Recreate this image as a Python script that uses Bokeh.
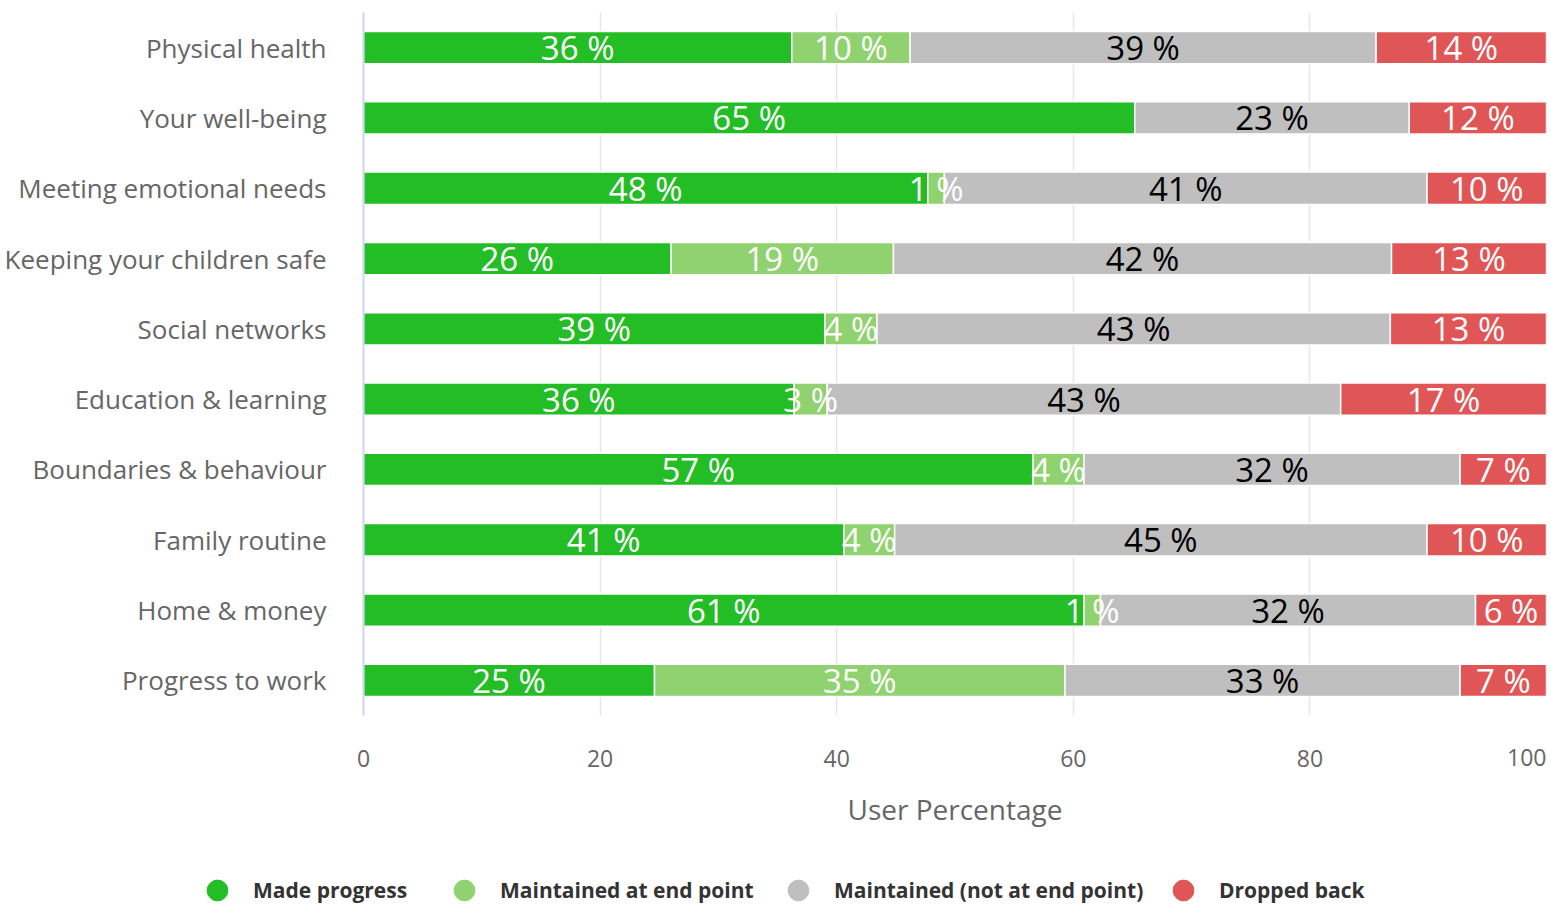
import numpy as np
from bokeh.plotting import figure
from bokeh.models import (ColumnDataSource, FactorRange, Range1d, FixedTicker,
                          Legend, LegendItem, Label)
from bokeh.embed import file_html
from bokeh.resources import INLINE
from bokeh.core.properties import value

# ---------------- data ----------------
categories = ["Physical health", "Your well-being", "Meeting emotional needs",
              "Keeping your children safe", "Social networks", "Education & learning",
              "Boundaries & behaviour", "Family routine", "Home & money", "Progress to work"]
made_progress = [36.2, 65.2, 47.7, 26.0, 39.0, 36.4, 56.6, 40.6, 60.9, 24.6]
maintained_end = [10.0, 0.0, 1.4, 18.8, 4.4, 2.8, 4.3, 4.3, 1.4, 34.7]
maintained_not_end = [39.4, 23.2, 40.8, 42.1, 43.4, 43.4, 31.8, 45.0, 31.7, 33.4]
dropped_back = [14.4, 11.6, 10.1, 13.1, 13.2, 17.4, 7.3, 10.1, 6.0, 7.3]
series_names = ["Made progress", "Maintained at end point",
                "Maintained (not at end point)", "Dropped back"]
x_ticks = [0, 20, 40, 60, 80, 100]
x_title = "User Percentage"

# ---------------- style ----------------
colors = ["#23bd26", "#90d26f", "#bfbfbf", "#e05555"]
label_colors = ["white", "white", "black", "white"]
FONT = "Open Sans"

series = [made_progress, maintained_end, maintained_not_end, dropped_back]
keys = ["s0", "s1", "s2", "s3"]
data = {"cat": categories}
for k, vals in zip(keys, series):
    data[k] = vals
source = ColumnDataSource(data)

p = figure(width=1551, height=870,
           y_range=FactorRange(factors=categories[::-1], range_padding=0),
           x_range=Range1d(0, 100),
           output_backend="svg", toolbar_location=None,
           min_border_left=363, min_border_right=5,
           min_border_top=12, min_border_bottom=155)
p.outline_line_color = None
p.background_fill_color = "white"
p.border_fill_color = "white"

p.hbar_stack(keys, y="cat", height=0.46, fill_color=colors,
             line_color="white", line_width=1.5, source=source)

# data labels
xs, ys, ts, cs = [], [], [], []
for i, cat in enumerate(categories):
    left = 0.0
    for s, vals in enumerate(series):
        v = vals[i]
        if v > 0:
            xs.append(left + v / 2)
            ys.append(cat)
            ts.append(f"{round(v)} %")
            cs.append(label_colors[s])
        left += v
lab_src = ColumnDataSource(dict(x=xs, y=ys, text=ts, color=cs))
p.text(x="x", y="y", text="text", text_color="color", source=lab_src,
       text_align="center", text_baseline="middle",
       text_font=value(FONT), text_font_size="33px")

# axes
xa = p.xaxis[0]
xa.ticker = FixedTicker(ticks=x_ticks[:-1])
xa.axis_line_color = None
xa.major_tick_line_color = None
xa.minor_tick_line_color = None
xa.major_label_text_font = FONT
xa.major_label_text_font_size = "23px"
xa.major_label_text_color = "#666666"
xa.major_label_standoff = 28
xa.axis_label = x_title
xa.axis_label_text_font = FONT
xa.axis_label_text_font_size = "28px"
xa.axis_label_text_font_style = "normal"
xa.axis_label_text_color = "#666666"
xa.axis_label_standoff = 20

# last tick label, right-aligned at the frame edge (as in the reference)
p.add_layout(Label(x=x_ticks[-1], y=-0.6, x_units="data", y_units="data",
                   text=str(x_ticks[-1]), text_align="right", text_baseline="middle",
                   text_font=FONT, text_font_size="23px", text_color="#666666"),
             "below")

ya = p.yaxis[0]
ya.axis_line_color = "#ccd6eb"
ya.axis_line_width = 2
ya.major_tick_line_color = None
ya.minor_tick_line_color = None
ya.major_label_text_font = FONT
ya.major_label_text_font_size = "26px"
ya.major_label_text_color = "#666666"
ya.major_label_standoff = 31

p.xgrid.ticker = FixedTicker(ticks=x_ticks)
p.xgrid.grid_line_color = "#e6e6e6"
p.xgrid.grid_line_width = 1.5
p.ygrid.grid_line_color = None

# ---------------- legend strip (separate root, below the chart) ----------------
lf = figure(width=1551, height=39, x_range=Range1d(0, 1551), y_range=Range1d(0, 39),
            output_backend="svg", toolbar_location=None, min_border=0)
lf.axis.visible = False
lf.grid.visible = False
lf.outline_line_color = None

circle_centers = [217, 464, 798, 1183]
for name, col, cx in zip(series_names, colors, circle_centers):
    r = lf.scatter(x=np.array([np.nan]), y=np.array([np.nan]), marker="circle",
                   size=21, fill_color=col, line_color=col)
    lg = Legend(items=[LegendItem(label=name, renderers=[r])],
                location=(cx - 26, -7),
                orientation="horizontal",
                glyph_width=52, glyph_height=52, label_standoff=10,
                padding=0, margin=0, spacing=0,
                background_fill_alpha=0, border_line_color=None,
                label_text_font=FONT, label_text_font_size="21px",
                label_text_font_style="bold", label_text_color="#333333")
    lf.add_layout(lg, "center")

open("out.html", "w").write(file_html([p, lf], INLINE))
